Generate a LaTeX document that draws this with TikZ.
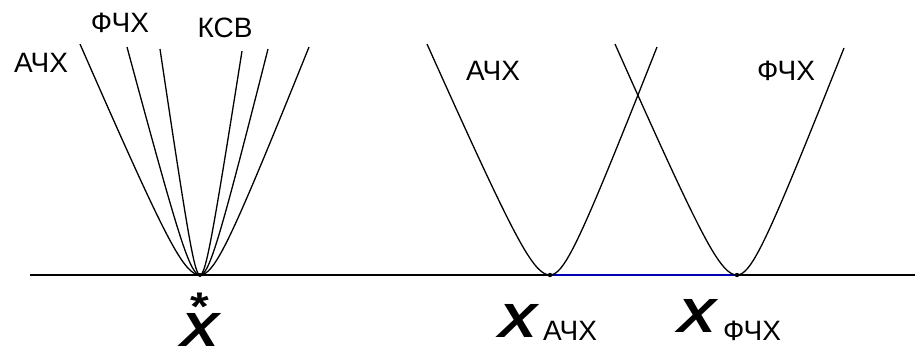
\documentclass[tikz,border=0pt]{standalone}
\usepackage{fontspec}
\setmainfont{Liberation Sans}
\usetikzlibrary{positioning}

\begin{document}
\begin{tikzpicture}[x=0.5pt,y=-0.5pt,
  curve/.style={black, line width=0.65pt, line join=round},
  lbl/.style={font=\fontsize{14}{16}\selectfont, inner sep=0pt, anchor=base},
  bigx/.style={font=\fontsize{24}{28}\selectfont\bfseries\itshape, inner sep=0pt, anchor=base, xscale=1.2},
  declare function={bend(\u)=(sqrt(0.0361+\u*\u)-0.19)/0.8279;}]
\useasboundingbox (0,0) rectangle (915,354);
% axis
\coordinate (axl) at (30,275);
\coordinate (axr) at (915,275);
\coordinate (vopt) at (200,275);
\coordinate (vach) at (550,275);
\coordinate (vfch) at (737,275);
\draw[line width=1pt] (axl) -- (axr);
\draw[blue!70!black, line width=1pt] (vach) -- (vfch);
% curves: vertex x / left top x,y / right top x,y
\foreach \vx/\lx/\ly/\rx/\ry in {200/80/44/309/47, 200/127/47/268/49, 200/160/49/242/51,
    550/427/44/657/47, 737/615/44/844/48}
  \draw[curve] plot[domain=1:0, samples=40] ({\vx+(\lx-\vx)*\x}, {275-(275-\ly)*bend(\x)})
    -- plot[domain=0:1, samples=40] ({\vx+(\rx-\vx)*\x}, {275-(275-\ry)*bend(\x)});
\fill (vopt) circle (2);
\fill (vach) circle (2.2);
\fill (vfch) circle (2.2);
% labels
\node[lbl] (lach) at (41,72) {АЧХ};
\node[lbl] (lfch) at (120,32) {ФЧХ};
\node[lbl] (lksv) at (225,37) {КСВ};
\node[lbl] (rach) at (493,80) {АЧХ};
\node[lbl] (rfch) at (786,80) {ФЧХ};
% points on the axis
\node[bigx] (xopt) at (200,346)
  {\ooalign{X\cr\hidewidth\raisebox{13pt}{\fontsize{20}{24}\selectfont\upshape *}\hidewidth\cr}};
\node[bigx] (xach) at (518,337) {X};
\node[lbl] (sach) at (570,340) {АЧХ};
\node[bigx] (xfch) at (697,332) {X};
\node[lbl] (sfch) at (752,340) {ФЧХ};
\end{tikzpicture}
\end{document}
